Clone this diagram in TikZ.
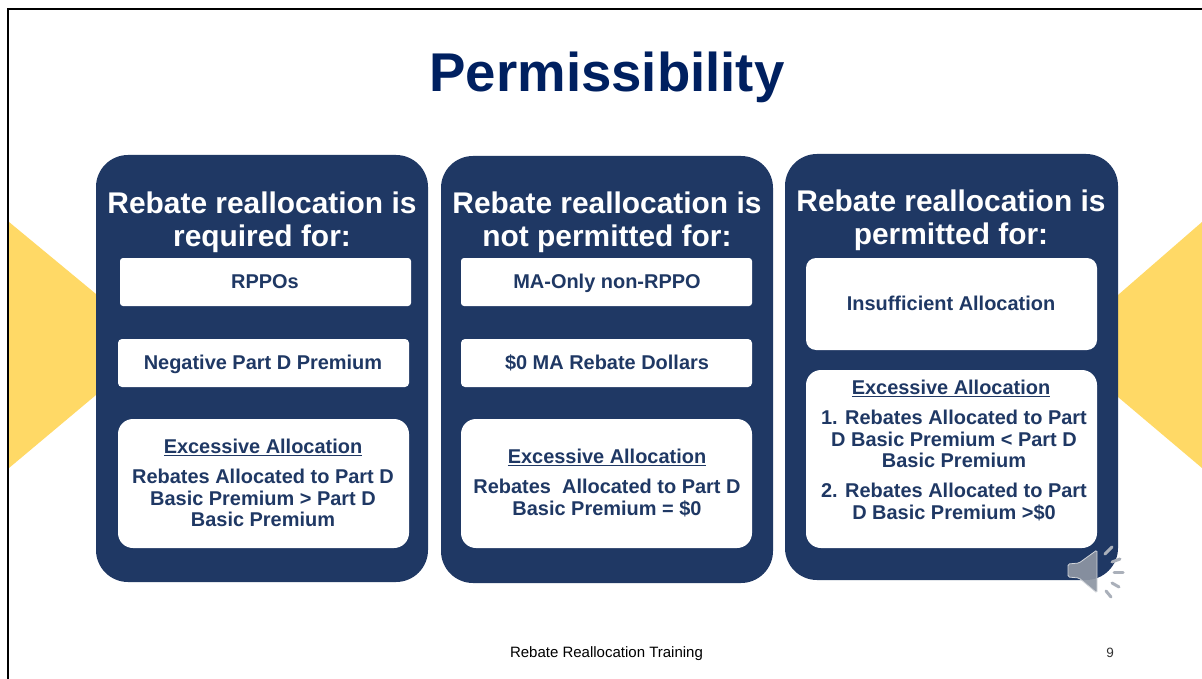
\documentclass[tikz,border=0pt]{standalone}
\usepackage{fontspec}
\setmainfont{Liberation Sans}
\definecolor{navy}{HTML}{1F3864}
\definecolor{titleblue}{HTML}{002060}
\definecolor{gold}{HTML}{FFD966}
\definecolor{spk}{HTML}{8E96A3}
\newcommand{\fs}[2]{\fontsize{#1}{#2}\selectfont}
\tikzset{
  panel/.style={fill=navy,rounded corners=32pt,inner sep=0pt,minimum width=#1,text=white},
  whitebox/.style={fill=white,inner sep=0pt},
  head/.style={text=white,font=\bfseries\fs{29.9}{33},align=center,inner sep=0pt},
  body/.style={text=navy,font=\bfseries\fs{19.95}{21.6},align=center,inner sep=0pt},
  ray/.style={draw=spk!75,line width=3pt,line cap=round},
}
\begin{document}
\begin{tikzpicture}[x=1pt,y=-1pt]
\useasboundingbox (0,0) rectangle (1202,679);
\fill[white] (0,0) rectangle (1202,679);
% yellow triangles
\fill[gold] (9,222) -- (96,294) -- (96,395) -- (9,468) -- cycle;
\fill[gold] (1202,222) -- (1118,295) -- (1118,397) -- (1202,468) -- cycle;
% frame
\draw[black,line width=2.6pt] (8,679) -- (8,9) -- (1202,9);
% title
\node (title) at (607,77) [text=titleblue,font=\bfseries\fs{54.6}{60},inner sep=0pt] {Permissibility};
% panels
\node (p1) at (262,368.5) [panel=332pt,minimum height=427pt] {};
\node (p2) at (607,369.5) [panel=332pt,minimum height=427pt] {};
\node (p3) at (951.5,367) [panel=333pt,minimum height=426pt] {};
% headers
\node (h1) at (262,222.5) [head] {Rebate reallocation is\\required for:};
\node (h2) at (607,222.5) [head] {Rebate reallocation is\\not permitted for:};
\node (h3) at (951,220.5) [head] {Rebate reallocation is\\permitted for:};
% white boxes, panel 1
\node (a1) at (265.5,282) [whitebox,rounded corners=3pt,minimum width=291pt,minimum height=48pt] {};
\node (a2) at (263.5,363) [whitebox,rounded corners=4pt,minimum width=291pt,minimum height=48pt] {};
\node (a3) at (263.5,483.5) [whitebox,rounded corners=15pt,minimum width=291pt,minimum height=129pt] {};
% white boxes, panel 2
\node (b1) at (606.5,282) [whitebox,rounded corners=3pt,minimum width=291pt,minimum height=48pt] {};
\node (b2) at (606.5,363) [whitebox,rounded corners=4pt,minimum width=291pt,minimum height=48pt] {};
\node (b3) at (606.5,483.5) [whitebox,rounded corners=15pt,minimum width=291pt,minimum height=129pt] {};
% white boxes, panel 3
\node (c1) at (951.5,304) [whitebox,rounded corners=10pt,minimum width=291pt,minimum height=92pt] {};
\node (c2) at (951.5,459) [whitebox,rounded corners=15pt,minimum width=291pt,minimum height=178pt] {};
% texts
\node (ta1) at (265,282) [body] {RPPOs};
\node (ta2) at (263,364.5) [body] {Negative Part D Premium};
\node (ta3) at (263,447.5) [body] {\underline{Excessive Allocation}};
\node (ta4) at (263,498) [body] {Rebates Allocated to Part D\\Basic Premium > Part D\\Basic Premium};
\node (tb1) at (607,283.5) [body] {MA-Only non-RPPO};
\node (tb2) at (607,362.5) [body] {\$0 MA Rebate Dollars};
\node (tb3) at (607,457.5) [body] {\underline{Excessive Allocation}};
\node (tb4) at (607,498) [body] {Rebates\ \ Allocated to Part D\\Basic Premium = \$0};
\node (tc1) at (951,303.5) [body] {Insufficient Allocation};
\node (tc2) at (951,388.5) [body] {\underline{Excessive Allocation}};
\node (tc3) at (954,439) [body] {1. Rebates Allocated to Part\\D Basic Premium < Part D\\Basic Premium};
\node (tc4) at (954,502) [body] {2. Rebates Allocated to Part\\D Basic Premium >\$0};
% footer
\node (foot) at (606.5,654) [text=black,font=\fs{15}{17},inner sep=0pt] {Rebate Reallocation Training};
\node (num) at (1110,653) [text=black!80,font=\fs{13.5}{15},inner sep=0pt] {9};
% speaker
\fill[spk,fill opacity=.92,draw=spk!40,line width=.8pt,rounded corners=1.5pt] (1068,564) -- (1079,563) -- (1097,550) -- (1097,593) -- (1079,578) -- (1068,577) -- cycle;
\draw[ray] (1105,554) -- (1112,547);
\draw[ray] (1112,562) -- (1120,559);
\draw[ray] (1114,572) -- (1123,572);
\draw[ray] (1112,583) -- (1119,587);
\draw[ray] (1106,591) -- (1111,597);
\end{tikzpicture}
\end{document}
